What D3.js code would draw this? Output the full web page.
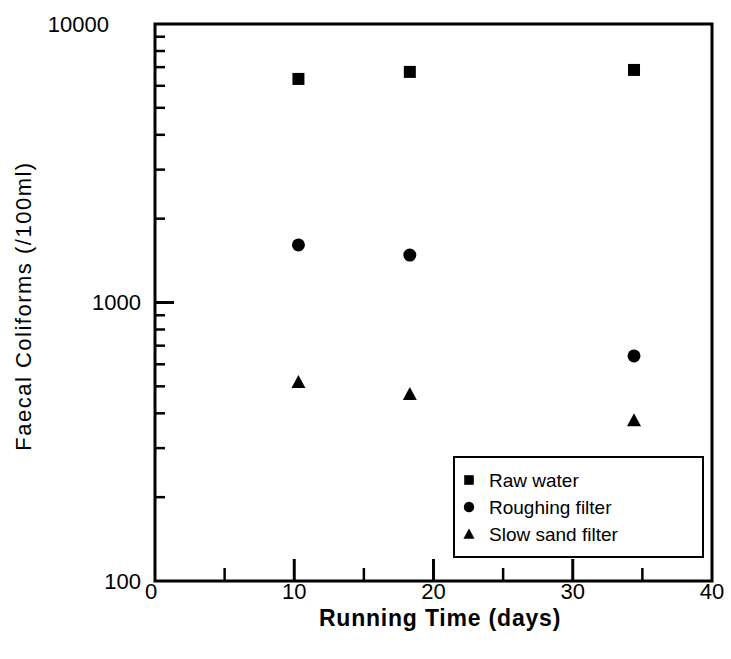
<html>
<head>
<style>
  body { margin: 0; background: #fff; }
  svg { font-family: "Liberation Sans", Arial, sans-serif; }
</style>
</head>
<body>
<div id="chart"></div>
<script src="https://cdn.jsdelivr.net/npm/d3@7"></script>
<script>
// data
var days = [10.3, 18.3, 34.4];
var rawWater = [6350, 6730, 6840];
var roughing = [1610, 1480, 643];
var slowSand = [518, 469, 378];
var seriesNames = ["Raw water", "Roughing filter", "Slow sand filter"];
var seriesShapes = ["square", "circle", "triangle"];
var xTicks = [0, 10, 20, 30, 40];
var yTicks = [100, 1000, 10000];

var width = 731, height = 659;
var plotLeft = 155, plotRight = 712, plotTop = 24, plotBottom = 581;

var svg = d3.select("#chart").append("svg")
  .attr("width", width).attr("height", height);

var x = d3.scaleLinear().domain([0, 40]).range([plotLeft, plotRight]);
var y = d3.scaleLog().domain([100, 10000]).range([plotBottom, plotTop]);

var series = [rawWater, roughing, slowSand];

// frame
svg.append("rect")
  .attr("x", plotLeft).attr("y", plotTop)
  .attr("width", plotRight - plotLeft).attr("height", plotBottom - plotTop)
  .attr("fill", "none").attr("stroke", "#000").attr("stroke-width", 3);

// y ticks (inward), minor at 2..9 of each decade
var yMinor = [];
[100, 1000].forEach(function(d) {
  for (var k = 2; k <= 9; k++) yMinor.push(d * k);
});
svg.append("g").selectAll("line")
  .data(yMinor).join("line")
  .attr("x1", plotLeft).attr("x2", plotLeft + 10)
  .attr("y1", d => y(d)).attr("y2", d => y(d))
  .attr("stroke", "#000").attr("stroke-width", 2.5);
svg.append("g").selectAll("line")
  .data(yTicks.slice(1, 2)).join("line")
  .attr("x1", plotLeft).attr("x2", plotLeft + 19)
  .attr("y1", d => y(d)).attr("y2", d => y(d))
  .attr("stroke", "#000").attr("stroke-width", 3);

// y tick labels
svg.append("g").selectAll("text")
  .data(yTicks).join("text")
  .attr("x", d => d == 10000 ? 109 : 141)
  .attr("y", d => y(d))
  .attr("dy", "0.35em")
  .attr("text-anchor", "end")
  .style("font-size", "22px")
  .text(d => d);

// x ticks (inward)
var xMinor = [5, 15, 25, 35];
svg.append("g").selectAll("line")
  .data(xMinor).join("line")
  .attr("x1", d => x(d)).attr("x2", d => x(d))
  .attr("y1", plotBottom).attr("y2", plotBottom - 13)
  .attr("stroke", "#000").attr("stroke-width", 2.5);
svg.append("g").selectAll("line")
  .data(xTicks.slice(1, 4)).join("line")
  .attr("x1", d => x(d)).attr("x2", d => x(d))
  .attr("y1", plotBottom).attr("y2", plotBottom - 22)
  .attr("stroke", "#000").attr("stroke-width", 3);

svg.append("g").selectAll("text")
  .data(xTicks).join("text")
  .attr("x", d => x(d) - (d == 0 ? 4 : 0))
  .attr("y", 599)
  .attr("text-anchor", "middle")
  .style("font-size", "22px")
  .text(d => d);

// axis titles
svg.append("text")
  .attr("x", 440).attr("y", 626)
  .attr("text-anchor", "middle")
  .style("font-size", "23px").style("font-weight", "bold")
  .style("letter-spacing", "0.8px")
  .text("Running Time (days)");

svg.append("text")
  .attr("transform", "translate(31,306) rotate(-90)")
  .attr("text-anchor", "middle")
  .style("font-size", "22px")
  .style("letter-spacing", "1.5px")
  .text("Faecal Coliforms (/100ml)");

// markers
function marker(sel, shape) {
  if (shape == "square") {
    sel.append("rect").attr("x", -6).attr("y", -6).attr("width", 12).attr("height", 12);
  } else if (shape == "circle") {
    sel.append("circle").attr("r", 6.5);
  } else {
    sel.append("path").attr("d", "M0,-7L7,6L-7,6Z");
  }
}

series.forEach(function(vals, i) {
  svg.append("g").selectAll("g")
    .data(vals).join("g")
    .attr("transform", (d, j) => "translate(" + x(days[j]) + "," + y(d) + ")")
    .attr("fill", "#000")
    .each(function() { marker(d3.select(this), seriesShapes[i]); });
});

// legend
var legend = svg.append("g");
legend.append("rect")
  .attr("x", 454).attr("y", 457).attr("width", 249).attr("height", 100)
  .attr("fill", "#fff").attr("stroke", "#000").attr("stroke-width", 2);
seriesNames.forEach(function(name, i) {
  var g = legend.append("g").attr("transform", "translate(469," + (480 + i * 27) + ")");
  var m = g.append("g").attr("transform", "scale(0.8)").attr("fill", "#000");
  marker(m, seriesShapes[i]);
  g.append("text").attr("x", 20).attr("dy", "0.35em")
    .style("font-size", "19px").text(name);
});
</script>
</body>
</html>
